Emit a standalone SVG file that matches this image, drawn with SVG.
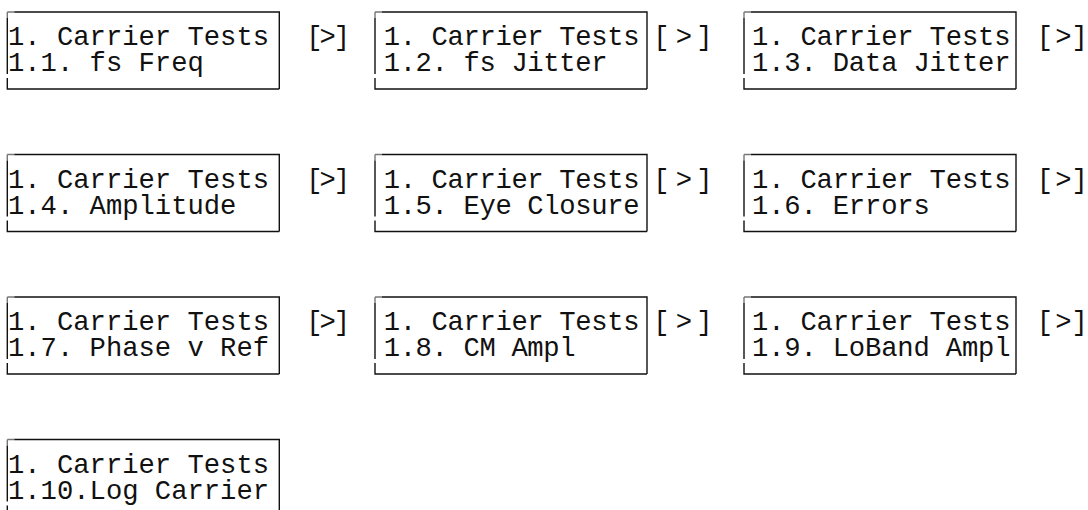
<svg xmlns="http://www.w3.org/2000/svg" width="1088" height="510" viewBox="0 0 1088 510">
  <style>
    text { font-family: "Liberation Mono", "Courier New", monospace; font-size: 27.2px; fill: #111; }
    .c1 { letter-spacing: 0px; }
    .c2 { letter-spacing: -0.35px; }
    .c3 { letter-spacing: -0.17px; }
    .edge { stroke: #111; stroke-width: 1.4; fill: none; }
    .tick { stroke: #777; stroke-width: 1.4; fill: none; }
  </style>
  <defs>
    <!-- LCD screen frame: 272 x 77, drawn as separate edges with small breaks -->
    <g id="frame">
      <path class="tick" d="M0,0 V6 M0,0 H7"/>
      <path class="edge" d="M0,6 V62 M0,66 V77 H272 M7,0 H272 V77"/>
    </g>
  </defs>

  <!-- Screens: columns at x=7.3 / 375 / 744, rows every 142.5 px -->
  <g id="screen-1-1" transform="translate(7.3,12)">
    <use href="#frame"/>
    <text class="c1" x="0.7" y="33.3">1. Carrier Tests</text>
    <text class="c1" x="0.7" y="59">1.1. fs Freq</text>
  </g>
  <g id="screen-1-2" transform="translate(375,12)">
    <use href="#frame"/>
    <text class="c2" x="8.7" y="33.3">1. Carrier Tests</text>
    <text class="c2" x="8.7" y="59">1.2. fs Jitter</text>
  </g>
  <g id="screen-1-3" transform="translate(744,12)">
    <use href="#frame"/>
    <text class="c3" x="8" y="33.3">1. Carrier Tests</text>
    <text class="c3" x="8" y="59">1.3. Data Jitter</text>
  </g>

  <g id="screen-1-4" transform="translate(7.3,154.5)">
    <use href="#frame"/>
    <text class="c1" x="0.7" y="33.3">1. Carrier Tests</text>
    <text class="c1" x="0.7" y="59">1.4. Amplitude</text>
  </g>
  <g id="screen-1-5" transform="translate(375,154.5)">
    <use href="#frame"/>
    <text class="c2" x="8.7" y="33.3">1. Carrier Tests</text>
    <text class="c2" x="8.7" y="59">1.5. Eye Closure</text>
  </g>
  <g id="screen-1-6" transform="translate(744,154.5)">
    <use href="#frame"/>
    <text class="c3" x="8" y="33.3">1. Carrier Tests</text>
    <text class="c3" x="8" y="59">1.6. Errors</text>
  </g>

  <g id="screen-1-7" transform="translate(7.3,297)">
    <use href="#frame"/>
    <text class="c1" x="0.7" y="33.3">1. Carrier Tests</text>
    <text class="c1" x="0.7" y="59">1.7. Phase v Ref</text>
  </g>
  <g id="screen-1-8" transform="translate(375,297)">
    <use href="#frame"/>
    <text class="c2" x="8.7" y="33.3">1. Carrier Tests</text>
    <text class="c2" x="8.7" y="59">1.8. CM Ampl</text>
  </g>
  <g id="screen-1-9" transform="translate(744,297)">
    <use href="#frame"/>
    <text class="c3" x="8" y="33.3">1. Carrier Tests</text>
    <text class="c3" x="8" y="59">1.9. LoBand Ampl</text>
  </g>

  <g id="screen-1-10" transform="translate(7.3,439.5)">
    <use href="#frame"/>
    <text class="c1" x="0.7" y="33.3">1. Carrier Tests</text>
    <text class="c1" x="0.7" y="59">1.10.Log Carrier</text>
  </g>

  <!-- "[>]" next-key hints beside each screen, glyphs placed one by one -->
  <g id="connectors">
    <g transform="translate(0,45)">
      <text x="306.3 319.6 333.8">[&gt;]</text>
      <text x="653.3 675.8 696.3">[&gt;]</text>
      <text x="1036.8 1055.3 1071.6">[&gt;]</text>
    </g>
    <g transform="translate(0,187.5)">
      <text x="306.3 319.6 333.8">[&gt;]</text>
      <text x="653.3 675.8 696.3">[&gt;]</text>
      <text x="1036.8 1055.3 1071.6">[&gt;]</text>
    </g>
    <g transform="translate(0,330)">
      <text x="306.3 319.6 333.8">[&gt;]</text>
      <text x="653.3 675.8 696.3">[&gt;]</text>
      <text x="1036.8 1055.3 1071.6">[&gt;]</text>
    </g>
  </g>
</svg>
